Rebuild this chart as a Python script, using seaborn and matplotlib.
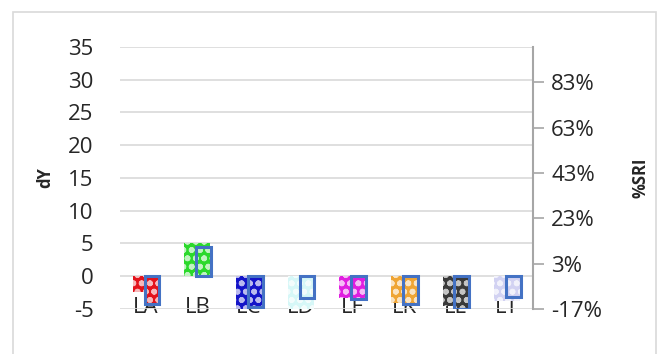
import numpy as np
import pandas as pd
import matplotlib
matplotlib.use('Agg')
import matplotlib.pyplot as plt
from matplotlib.patches import Rectangle
import seaborn as sns

# données
categories = ['LA', 'LB', 'LC', 'LD', 'LF', 'LK', 'LL', 'LT']
dy_values = [-2.4, 5.0, -5.1, -5.1, -3.3, -4.1, -4.6, -3.8]
sri_values = [-0.149, 0.105, -0.16, -0.12, -0.127, -0.149, -0.17, -0.116]
colors = ['#E3131B', '#2BD92B', '#1414C8', '#D6F7F7', '#E01EE0', '#EFA535', '#3A3A3A', '#D2D2F2']
left_ticks = [-5, 0, 5, 10, 15, 20, 25, 30, 35]
right_ticks = [-0.17, 0.03, 0.23, 0.43, 0.63, 0.83]
right_labels = ['-17%', '3%', '23%', '43%', '63%', '83%']
sri_base = -0.0245

sns.set_style('white')
plt.rcParams['font.family'] = ['Open Sans', 'DejaVu Sans']
plt.rcParams['axes.unicode_minus'] = False
plt.rcParams['hatch.linewidth'] = 1.8

fig = plt.figure(figsize=(6.59, 3.54), dpi=100)
ax = fig.add_axes([0.182, 0.127, 0.627, 0.741])

df = pd.DataFrame({'cat': categories, 'dY': dy_values})
sns.barplot(data=df, x='cat', y='dY', hue='cat', palette=colors, width=0.5,
            legend=False, ax=ax, saturation=1, linewidth=0)
for p in ax.patches:
    p.set_hatch('oo')
    p.set_edgecolor('#FFFFFFB0')
    p.set_linewidth(0)

ax.set_ylim(-5, 35)
ax.set_yticks(left_ticks)
ax.yaxis.grid(True, color='#D9D9D9', linewidth=1.2)
ax.set_axisbelow(True)
for s in ['top', 'left', 'bottom', 'right']:
    ax.spines[s].set_visible(False)
ax.tick_params(axis='y', length=0, pad=19, labelsize=16, labelcolor='#262626')
ax.tick_params(axis='x', length=0, pad=-1, labelsize=16, labelcolor='#262626')
for lab in ax.get_xticklabels():
    lab.set_va('center')
ax.set_xlim(-0.5, len(categories) - 0.5)
ax.set_xlabel('')
ax.set_ylabel('dY', fontsize=12, fontweight='bold', labelpad=10)

# axe secondaire %SRI
ax2 = ax.twinx()
x = np.arange(len(categories))
sri = np.array(sri_values)
ax2.bar(x + 0.12, sri - sri_base, bottom=sri_base, width=0.285, color=colors,
        hatch='oo', edgecolor='#FFFFFFB0', linewidth=0)
ax2.bar(x + 0.12, sri - sri_base, bottom=sri_base, width=0.285, fill=False,
        edgecolor='#4472C4', linewidth=2.2)
ax2.set_ylim(-0.17, 0.987)
ax2.set_yticks(right_ticks)
ax2.set_yticklabels(right_labels)
ax2.tick_params(axis='y', length=8, width=1.2, color='#A6A6A6', pad=5,
                labelsize=16, labelcolor='#262626')
for s in ['top', 'left', 'bottom']:
    ax2.spines[s].set_visible(False)
ax2.spines['right'].set_color('#A6A6A6')
ax2.spines['right'].set_linewidth(1.5)
ax2.set_ylabel('%SRI', fontsize=12, fontweight='bold', rotation=90, labelpad=21)

# cadre du graphique
fig.patches.append(Rectangle((0.02, -0.05), 0.975, 1.015, transform=fig.transFigure,
                             fill=False, edgecolor='#D9D9D9', linewidth=1.2))

fig.savefig('out.png', dpi=100)
